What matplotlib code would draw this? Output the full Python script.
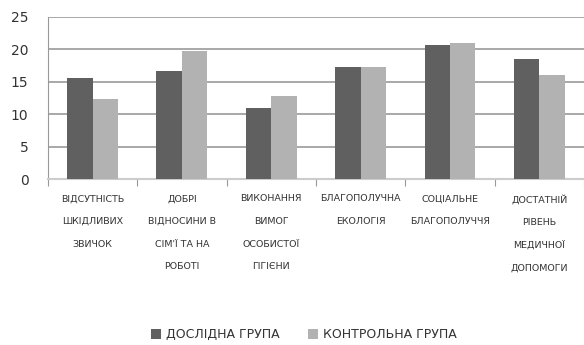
import numpy as np
import matplotlib.pyplot as plt

# Data
categories = [
    "ВІДСУТНІСТЬ\nШКІДЛИВИХ\nЗВИЧОК",
    "ДОБРІ\nВІДНОСИНИ В\nСІМ'Ї ТА НА\nРОБОТІ",
    "ВИКОНАННЯ\nВИМОГ\nОСОБИСТОЇ\nГІГІЄНИ",
    "БЛАГОПОЛУЧНА\nЕКОЛОГІЯ",
    "СОЦІАЛЬНЕ\nБЛАГОПОЛУЧЧЯ",
    "ДОСТАТНІЙ\nРІВЕНЬ\nМЕДИЧНОЇ\nДОПОМОГИ",
]
experimental = [15.6, 16.7, 11.0, 17.3, 20.6, 18.5]
control = [12.4, 19.7, 12.8, 17.3, 20.9, 16.1]
series_names = ["ДОСЛІДНА ГРУПА", "КОНТРОЛЬНА ГРУПА"]
y_ticks = [0, 5, 10, 15, 20, 25]

plt.rcParams['font.family'] = ['DejaVu Sans']

fig = plt.figure(figsize=(5.84, 3.45), dpi=100)
ax = fig.add_axes([0.082, 0.481, 0.918, 0.47])

x = np.arange(len(categories))
w = 0.285
ax.bar(x - w / 2, experimental, w, color='#606060', label=series_names[0], zorder=3)
ax.bar(x + w / 2, control, w, color='#b2b2b2', label=series_names[1], zorder=3)

ax.set_xlim(-0.5, len(categories) - 0.5)
ax.set_ylim(0, 25)
ax.set_yticks(y_ticks)
ax.yaxis.grid(True, color='#9a9a9a', linewidth=1.2, zorder=0)

# category boundaries get the tick marks, names sit between them
ax.set_xticks(np.arange(-0.5, len(categories), 1.0))
ax.set_xticklabels([])
ax.set_xticks(x, minor=True)
ax.set_xticklabels(categories, minor=True, fontsize=6.8, color='#333333',
                   linespacing=2.95, va='top')
ax.tick_params(axis='x', which='major', length=5, color='#999999')
ax.tick_params(axis='x', which='minor', length=0, pad=11)
ax.tick_params(axis='y', length=0, labelsize=10, colors='#333333', pad=14)

for s in ['top', 'right']:
    ax.spines[s].set_visible(False)
ax.spines['left'].set_color('#999999')
ax.spines['bottom'].set_color('#cccccc')
ax.spines['bottom'].set_linewidth(1.5)

fig.legend(loc='center', bbox_to_anchor=(0.52, 0.03), ncol=2, frameon=False,
           fontsize=9, handlelength=0.8, handleheight=0.8, columnspacing=2.3,
           handletextpad=0.4, labelcolor='#333333')

fig.savefig('out.png', dpi=100)
